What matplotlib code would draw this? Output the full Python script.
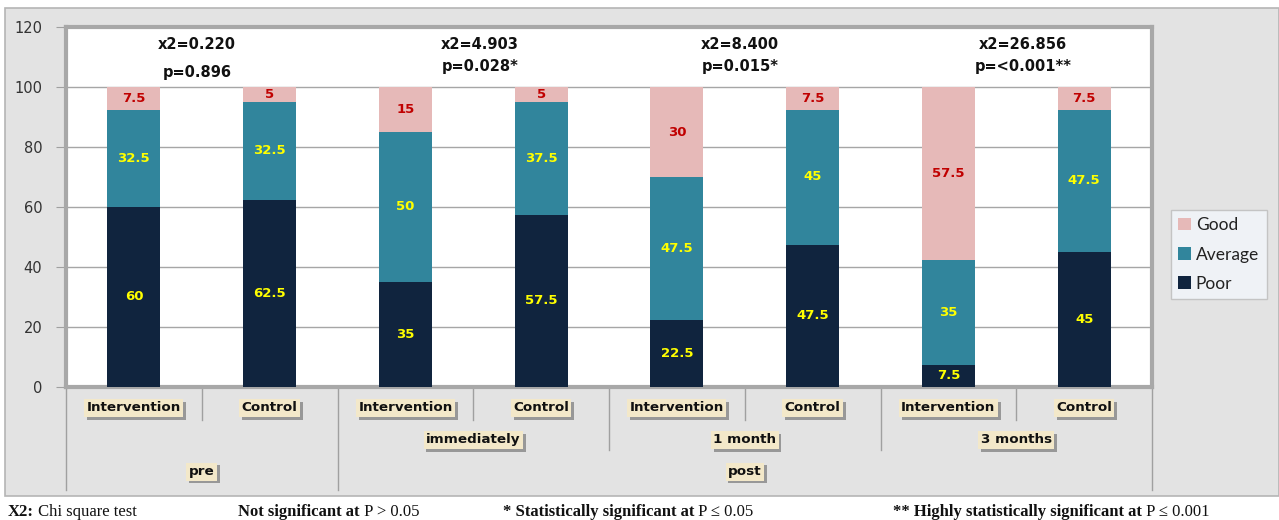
import matplotlib
matplotlib.use("Agg")
import matplotlib.pyplot as plt
import matplotlib.patheffects as pe
from matplotlib.patches import Rectangle
from matplotlib.lines import Line2D
import numpy as np

# ---------------- data ----------------
arms = ['Intervention', 'Control', 'Intervention', 'Control',
        'Intervention', 'Control', 'Intervention', 'Control']
groups = ['immediately', '1 month', '3 months']
phases = ['pre', 'post']
poor = [60, 62.5, 35, 57.5, 22.5, 47.5, 7.5, 45]
average = [32.5, 32.5, 50, 37.5, 47.5, 45, 35, 47.5]
good = [7.5, 5, 15, 5, 30, 7.5, 57.5, 7.5]
chi2_text = ['x2=0.220', 'x2=4.903', 'x2=8.400', 'x2=26.856']
p_text = ['p=0.896', 'p=0.028*', 'p=0.015*', 'p=<0.001**']
yticks = [0, 20, 40, 60, 80, 100, 120]

W, H = 1279, 520
fig = plt.figure(figsize=(W / 100, H / 100), dpi=100)
fig.patch.set_facecolor('white')

def fx(px):
    return px / W

def fy(py):
    return 1 - py / H

# gray background panel
bg = Rectangle((fx(5), fy(496)), fx(1279) - fx(5), fy(8) - fy(496),
               transform=fig.transFigure, facecolor='#E3E3E3',
               edgecolor='#B5B5B5', linewidth=1.2, zorder=-10)
fig.patches.append(bg)

ax = fig.add_axes([fx(66), fy(387), fx(1152) - fx(66), fy(27) - fy(387)])
ax.set_zorder(1)
ax.set_facecolor('white')
x = np.arange(len(arms))
bw = 0.39
c_poor, c_avg, c_good = '#10243E', '#31859C', '#E6B9B8'

b1 = ax.bar(x, poor, bw, color=c_poor, label='Poor', zorder=3)
b2 = ax.bar(x, average, bw, bottom=poor, color=c_avg, label='Average', zorder=3)
bot2 = [p + a for p, a in zip(poor, average)]
b3 = ax.bar(x, good, bw, bottom=bot2, color=c_good, label='Good', zorder=3)

for i in range(len(arms)):
    ax.text(x[i], poor[i] / 2, f'{poor[i]:g}', ha='center', va='center',
            color='#FFFF00', fontsize=9.5, fontweight='bold', zorder=4)
    ax.text(x[i], poor[i] + average[i] / 2, f'{average[i]:g}', ha='center',
            va='center', color='#FFFF00', fontsize=9.5, fontweight='bold', zorder=4)
    ax.text(x[i], bot2[i] + good[i] / 2, f'{good[i]:g}', ha='center',
            va='center', color='#C00000', fontsize=9.5, fontweight='bold', zorder=4)

ax.set_xlim(-0.5, len(arms) - 0.5)
ax.set_ylim(0, 120)
ax.set_yticks(yticks)
ax.set_yticklabels([str(t) for t in yticks], fontsize=10.5, color='#333333')
ax.tick_params(axis='y', direction='out', length=7, color='#A0A0A0', pad=10)
ax.tick_params(axis='x', bottom=False, labelbottom=False)
ax.grid(axis='y', color='#A6A6A6', linewidth=1, zorder=1)
for s in ax.spines.values():
    s.set_color('#A8A8A8')
    s.set_linewidth(3)

# chi-square annotations
ann_x = [0.465, 2.55, 4.465, 6.55]
p_y = [104.7, 106.7, 106.7, 106.7]
for k in range(4):
    ax.text(ann_x[k], 114.3, chi2_text[k], ha='center', va='center',
            fontsize=10.5, fontweight='bold', color='#111111', zorder=5)
    ax.text(ann_x[k], p_y[k], p_text[k], ha='center', va='center',
            fontsize=10.5, fontweight='bold', color='#111111', zorder=5)

# multi-level category axis
tr = ax.get_xaxis_transform()
shadow = [pe.withSimplePatchShadow(offset=(2, -2), shadow_rgbFace='#666666', alpha=0.6)]

def cat_label(xx, yy, s):
    t = ax.text(xx, yy, s, transform=tr, ha='center', va='center',
                fontsize=9.7, fontweight='bold', color='#111111', clip_on=False,
                bbox=dict(boxstyle='square,pad=0.18', facecolor='#F3E8C9',
                          edgecolor='none'))
    t.get_bbox_patch().set_path_effects(shadow)
    return t

for i, a in enumerate(arms):
    cat_label(x[i], -0.058, a)
for k, g in enumerate(groups):
    cat_label(2.5 + 2 * k, -0.147, g)
cat_label(0.5, -0.235, phases[0])
cat_label(4.5, -0.235, phases[1])

def vline(xx, ybot):
    ax.add_line(Line2D([xx, xx], [0, ybot], transform=tr, color='#A0A0A0',
                       linewidth=1, clip_on=False))

for xx in [0.5, 2.5, 4.5, 6.5]:
    vline(xx, -0.092)
for xx in [3.5, 5.5]:
    vline(xx, -0.175)
for xx in [-0.5, 1.5, 7.5]:
    vline(xx, -0.286)

# legend
handles = [b3, b2, b1]
leg = fig.legend(handles, ['Good', 'Average', 'Poor'], loc='upper left',
                 bbox_to_anchor=(fx(1162), fy(201)), bbox_transform=fig.transFigure,
                 frameon=True, fancybox=False,
                 handlelength=0.7, handleheight=0.7, handletextpad=0.3,
                 labelspacing=0.75, borderpad=0.45, prop={'family': 'Lato', 'size': 12.5})
leg.get_frame().set_facecolor('#F3F7FC')
leg.get_frame().set_edgecolor('#BBBBBB')
leg.get_frame().set_linewidth(1)
for t in leg.get_texts():
    t.set_color('#222222')

# footnote
serif = 'Liberation Serif'
foot = [
    (8, 'X2:', ' Chi square test'),
    (238, 'Not significant at', ' P > 0.05'),
    (503, '* Statistically significant at', ' P \u2264 0.05'),
    (893, '** Highly statistically significant at', ' P \u2264 0.001'),
]
for px, bold, normal in foot:
    t1 = fig.text(fx(px), fy(516), bold, ha='left', va='baseline',
                  family=serif, fontweight='bold', fontsize=12, color='#111111')
    fig.add_artist(plt.Annotation(normal, xy=(1, 0), xycoords=t1,
                                  xytext=(0, 0), textcoords='offset points',
                                  ha='left', va='bottom', family=serif,
                                  fontsize=12, color='#111111'))

fig.savefig('out.png', dpi=100, facecolor=fig.get_facecolor())
